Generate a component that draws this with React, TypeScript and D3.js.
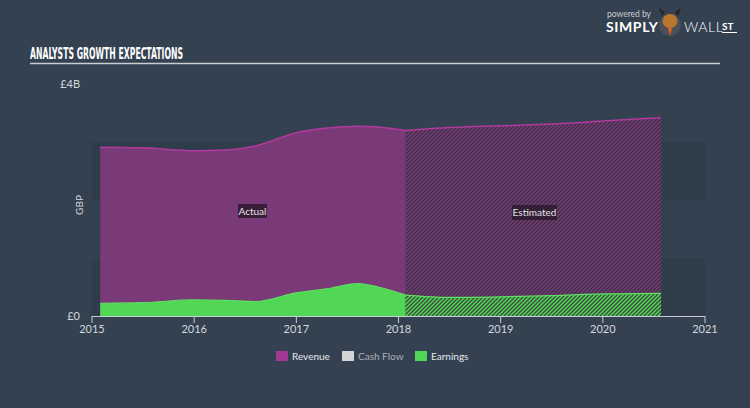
import React from "react";
import * as d3 from "d3";

const years = [2015, 2016, 2017, 2018, 2019, 2020, 2021];
const yTickLabels = ["£0", "£4B"];
const yTickValues = [0, 4];

// Actual period (year fraction, GBP billions)
const actualX = [2015.08, 2015.5, 2016.0, 2016.3, 2016.6, 2017.0, 2017.3, 2017.6, 2017.8, 2018.07];
const actualRevenue = [2.91, 2.9, 2.85, 2.86, 2.93, 3.16, 3.24, 3.27, 3.26, 3.2];
const actualEarnings = [0.22, 0.23, 0.28, 0.27, 0.25, 0.4, 0.47, 0.56, 0.5, 0.36];

// Estimated period
const estX = [2018.07, 2018.5, 2019.0, 2019.5, 2020.0, 2020.57];
const estRevenue = [3.2, 3.25, 3.28, 3.31, 3.36, 3.42];
const estEarnings = [0.36, 0.32, 0.33, 0.35, 0.38, 0.39];

const legendItems = ["Revenue", "Cash Flow", "Earnings"];
const legendColors = ["#a23a95", "#d4d4d4", "#52d655"];

const W = 750;
const H = 408;
const BG = "#334150";
const FONT = "Lato, 'Open Sans', sans-serif";

export default function App() {
  const x = d3.scaleLinear().domain([2015, 2021]).range([92, 705]);
  const y = d3.scaleLinear().domain([0, 4]).range([316, 84]);

  const mk = (xs: number[], vs: number[]) => xs.map((d, i) => ({ x: d, v: vs[i] }));
  const area = d3
    .area<{ x: number; v: number }>()
    .x((d) => x(d.x))
    .y0(y(0))
    .y1((d) => y(d.v))
    .curve(d3.curveMonotoneX);
  const line = d3
    .line<{ x: number; v: number }>()
    .x((d) => x(d.x))
    .y((d) => y(d.v))
    .curve(d3.curveMonotoneX);

  const aRev = mk(actualX, actualRevenue);
  const aEarn = mk(actualX, actualEarnings);
  const eRev = mk(estX, estRevenue);
  const eEarn = mk(estX, estEarnings);

  const bands = [
    [y(3.0), y(2.0)],
    [y(1.0), y(0)],
  ];

  const legendX = [276, 342, 415];

  return (
    <svg
      width={W}
      height={H}
      style={{ position: "fixed", left: 0, top: 0, display: "block" }}
      fontFamily={FONT}
    >
      <defs>
        <pattern id="hatchRev" patternUnits="userSpaceOnUse" width={4} height={4}>
          <rect width={4} height={4} fill="#7a3a77" />
          <path d="M-1,1 l2,-2 M0,4 l4,-4 M3,5 l2,-2" stroke="#3a3045" strokeWidth={1.3} />
        </pattern>
        <pattern id="hatchEarn" patternUnits="userSpaceOnUse" width={4} height={4}>
          <rect width={4} height={4} fill="#52d655" />
          <path d="M-1,1 l2,-2 M0,4 l4,-4 M3,5 l2,-2" stroke="#3a4a40" strokeWidth={1.3} />
        </pattern>
      </defs>
      <rect width={W} height={H} fill={BG} />

      {/* background bands */}
      {bands.map((b, i) => (
        <rect key={i} x={x(2015)} y={b[0]} width={x(2021) - x(2015)} height={b[1] - b[0]} fill="#2f3c4a" />
      ))}

      {/* title */}
      <text
        x={30}
        y={59}
        fill="#ffffff"
        fontFamily="'DejaVu Sans Condensed', 'DejaVu Sans', sans-serif"
        fontWeight="bold"
        fontSize={15}
        textLength={153}
        lengthAdjust="spacingAndGlyphs"
      >
        ANALYSTS GROWTH EXPECTATIONS
      </text>
      <line x1={30} x2={720} y1={63.5} y2={63.5} stroke="#c9ced4" strokeWidth={1.5} />

      {/* logo */}
      <text x={607} y={17} fill="#c8ccd2" fontSize={8.5} fontFamily={FONT}>
        powered by
      </text>
      <text x={606} y={32} fill="#ffffff" fontSize={14} fontWeight="bold" fontFamily={FONT} letterSpacing={0.6}>
        SIMPLY
      </text>
      <circle cx={670} cy={25} r={11} fill="#4a4f58" />
      <ellipse cx={670} cy={21} rx={7.5} ry={7} fill="#b8772c" />
      <path d="M662,16 l-3,-8 l6,4 Z M678,16 l3,-8 l-6,4 Z" fill="#2a2420" />
      <path d="M668,28 l2,8 l2,-8 Z" fill="#e2621f" />
      <text x={684} y={32} fill="#ffffff" fontSize={14} fontFamily={FONT} fontWeight={300} letterSpacing={0.6}>
        WALL
      </text>
      <text x={722} y={30} fill="#ffffff" fontSize={10} fontWeight="bold" fontFamily={FONT}>
        ST
      </text>
      <line x1={722} x2={737} y1={32.5} y2={32.5} stroke="#ffffff" strokeWidth={1} />

      {/* areas */}
      <path d={area(aRev) || ""} fill="#7a3a77" />
      <path d={area(eRev) || ""} fill="url(#hatchRev)" />
      <path d={area(aEarn) || ""} fill="#52d655" />
      <path d={area(eEarn) || ""} fill="url(#hatchEarn)" />
      <path d={line(aRev) || ""} fill="none" stroke="#b2399e" strokeWidth={1.5} />
      <path d={line(eRev) || ""} fill="none" stroke="#b2399e" strokeWidth={1.5} />
      <path d={line(aEarn) || ""} fill="none" stroke="#5fe061" strokeWidth={1.2} />
      <path d={line(eEarn) || ""} fill="none" stroke="#5fe061" strokeWidth={1.2} />

      {/* period labels */}
      <rect x={238} y={204} width={29} height={14} fill="#2e1a2e" opacity={0.85} />
      <text x={252.5} y={215} fill="#e6e0e6" fontSize={10} textAnchor="middle" fontFamily={FONT}>
        Actual
      </text>
      <rect x={512} y={205} width={45} height={15} fill="#2b1c2e" opacity={0.85} />
      <text x={534.5} y={216} fill="#e6e0e6" fontSize={10} textAnchor="middle" fontFamily={FONT}>
        Estimated
      </text>

      {/* x axis */}
      <line x1={x(2015)} x2={x(2021)} y1={316.5} y2={316.5} stroke="#c9ced4" strokeWidth={1} />
      {years.map((yr) => (
        <g key={yr}>
          <line x1={x(yr)} x2={x(yr)} y1={316} y2={323} stroke="#c9ced4" strokeWidth={1} />
          <text x={x(yr)} y={333} fill="#d4d8dc" fontSize={11} textAnchor="middle" fontFamily={FONT}>
            {yr}
          </text>
        </g>
      ))}

      {/* y axis labels */}
      {yTickValues.map((v, i) => (
        <text key={v} x={80} y={y(v) + 4} fill="#d4d8dc" fontSize={11} textAnchor="end" fontFamily={FONT}>
          {yTickLabels[i]}
        </text>
      ))}
      <text
        transform={`translate(83,${(y(0) + y(4)) / 2 + 5}) rotate(-90)`}
        fill="#d4d8dc"
        fontSize={10}
        textAnchor="middle"
        fontFamily={FONT}
      >
        GBP
      </text>

      {/* legend */}
      {legendItems.map((it, i) => (
        <g key={it}>
          <rect x={legendX[i]} y={351} width={12} height={10} fill={legendColors[i]} />
          <text
            x={legendX[i] + 16}
            y={360}
            fill={it === "Cash Flow" ? "#a9b0b8" : "#e6e8ea"}
            fontSize={10}
            fontFamily={FONT}
          >
            {it}
          </text>
        </g>
      ))}
    </svg>
  );
}
